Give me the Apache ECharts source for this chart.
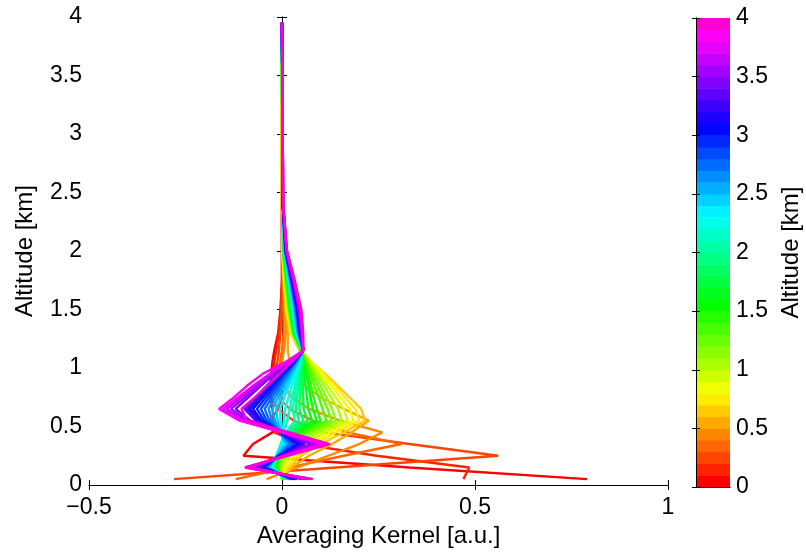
<!DOCTYPE html>
<html>
<head>
<meta charset="utf-8">
<script src="https://cdn.jsdelivr.net/npm/echarts@6/dist/echarts.min.js"></script>
<style>
html, body { margin: 0; padding: 0; background: #fff; }
#chart { width: 806px; height: 553px; }
</style>
</head>
<body>
<div id="chart"></div>
<script>
// Retrieval altitude grid [km] on which each averaging kernel is sampled
const altitudeGrid = [0.05, 0.15, 0.25, 0.35, 0.45, 0.55, 0.65, 0.75, 0.85, 0.95, 1.05, 1.15, 1.3, 1.5, 1.75, 2.0, 2.4, 3.95];

// Nominal altitude [km] of each kernel (sets its colour)
const kernelAltitudes = [0.05, 0.15, 0.25, 0.35, 0.45, 0.55, 0.65, 0.75, 0.85, 0.95,
  1.05, 1.15, 1.25, 1.35, 1.45, 1.55, 1.65, 1.75, 1.85, 1.95,
  2.05, 2.15, 2.25, 2.35, 2.45, 2.55, 2.65, 2.75, 2.85, 2.95,
  3.05, 3.15, 3.25, 3.35, 3.45, 3.55, 3.65, 3.75, 3.85, 3.95];

// Averaging kernel values [a.u.], one row per kernel, one entry per altitudeGrid level
const kernelValues = [
  [0.79, 0.33, -0.10, -0.075, -0.025, -0.02, -0.025, -0.03, -0.03, -0.028, -0.025, -0.02, -0.01, -0.004, 0, 0, 0, 0],
  [0.47, 0.485, 0.245, 0.05, -0.02, -0.03, -0.01, 0.0, -0.01, -0.02, -0.02, -0.015, -0.008, -0.003, 0, 0, 0, 0],
  [-0.28, 0.14, 0.56, 0.33, 0.11, 0.03, -0.01, -0.03, -0.03, -0.02, -0.012, -0.008, -0.004, -0.001, 0.001, 0, 0, 0],
  [-0.12, 0.02, 0.16, 0.31, 0.17, 0.08, 0.02, -0.01, -0.015, -0.01, -0.005, 0.0, 0.004, 0.004, 0.003, 0.001, 0, 0],
  [-0.04, 0.04, 0.12, 0.2, 0.26, 0.15, 0.07, 0.025, 0.005, -0.003, 0.0, 0.005, 0.01, 0.007, 0.004, 0.001, 0, 0],
  [0.0, 0.025, 0.07, 0.13, 0.18, 0.225, 0.16, 0.1, 0.06, 0.035, 0.02, 0.015, 0.015, 0.008, 0.004, 0.001, 0, 0],
  [0.0, 0.02, 0.05, 0.1, 0.16, 0.215, 0.205, 0.175, 0.144, 0.112, 0.077, 0.045, 0.022, 0.01, 0.005, 0.001, 0, 0],
  [0.0, 0.012, 0.04, 0.085, 0.14, 0.2, 0.19, 0.163, 0.137, 0.109, 0.078, 0.05, 0.023, 0.012, 0.006, 0.001, 0, 0],
  [0.0, 0.005, 0.03, 0.07, 0.125, 0.185, 0.175, 0.151, 0.128, 0.103, 0.075, 0.05, 0.024, 0.013, 0.006, 0.0015, 0, 0],
  [0.0, 0.0, 0.02, 0.06, 0.11, 0.17, 0.16, 0.139, 0.118, 0.096, 0.072, 0.05, 0.025, 0.014, 0.007, 0.002, 0, 0],
  [0.0, -0.005, 0.012, 0.05, 0.095, 0.155, 0.145, 0.127, 0.109, 0.09, 0.069, 0.05, 0.026, 0.015, 0.008, 0.002, 0.001, 0],
  [0.0, -0.008, 0.006, 0.04, 0.082, 0.14, 0.13, 0.115, 0.1, 0.084, 0.066, 0.05, 0.027, 0.016, 0.009, 0.003, 0.001, 0],
  [0.002, -0.01, 0.0, 0.03, 0.07, 0.128, 0.118, 0.105, 0.092, 0.079, 0.064, 0.05, 0.028, 0.018, 0.01, 0.003, 0.001, 0],
  [0.003, -0.012, -0.004, 0.022, 0.06, 0.115, 0.105, 0.095, 0.084, 0.073, 0.061, 0.05, 0.029, 0.019, 0.011, 0.003, 0.001, 0],
  [0.004, -0.014, -0.007, 0.015, 0.05, 0.1, 0.09, 0.082, 0.075, 0.067, 0.058, 0.05, 0.03, 0.02, 0.012, 0.004, 0.001, 0],
  [0.005, -0.016, -0.009, 0.01, 0.042, 0.09, 0.08, 0.074, 0.069, 0.063, 0.056, 0.05, 0.031, 0.021, 0.012, 0.004, 0.001, 0],
  [0.006, -0.018, -0.01, 0.006, 0.035, 0.078, 0.068, 0.065, 0.061, 0.058, 0.054, 0.05, 0.032, 0.022, 0.013, 0.004, 0.001, 0],
  [0.007, -0.02, -0.011, 0.003, 0.028, 0.066, 0.056, 0.055, 0.054, 0.053, 0.051, 0.05, 0.033, 0.024, 0.014, 0.005, 0.001, 0],
  [0.008, -0.022, -0.012, 0.0, 0.022, 0.055, 0.045, 0.046, 0.048, 0.049, 0.051, 0.052, 0.034, 0.025, 0.015, 0.005, 0.001, 0],
  [0.009, -0.024, -0.013, -0.002, 0.016, 0.044, 0.036, 0.039, 0.042, 0.045, 0.049, 0.052, 0.035, 0.026, 0.016, 0.006, 0.001, 0],
  [0.01, -0.026, -0.014, -0.003, 0.01, 0.033, 0.028, 0.033, 0.037, 0.042, 0.048, 0.053, 0.036, 0.027, 0.017, 0.006, 0.001, 0],
  [0.011, -0.028, -0.015, -0.002, 0.004, 0.014, 0.02, 0.026, 0.033, 0.04, 0.047, 0.054, 0.037, 0.028, 0.018, 0.006, 0.001, 0],
  [0.013, -0.03, -0.015, 0.0, 0.002, 0.005, 0.008, 0.017, 0.025, 0.035, 0.045, 0.054, 0.038, 0.03, 0.018, 0.007, 0.002, 0],
  [0.015, -0.032, -0.014, 0.004, 0.0, -0.004, -0.005, 0.006, 0.018, 0.03, 0.043, 0.055, 0.039, 0.031, 0.019, 0.007, 0.002, 0],
  [0.017, -0.034, -0.013, 0.008, -0.002, -0.011, -0.015, -0.002, 0.012, 0.026, 0.041, 0.055, 0.04, 0.032, 0.02, 0.007, 0.002, 0],
  [0.019, -0.037, -0.012, 0.013, -0.004, -0.018, -0.025, -0.01, 0.005, 0.021, 0.039, 0.055, 0.041, 0.033, 0.021, 0.008, 0.002, 0],
  [0.021, -0.04, -0.011, 0.018, -0.005, -0.025, -0.035, -0.018, -0.001, 0.017, 0.037, 0.055, 0.042, 0.034, 0.022, 0.008, 0.002, 0],
  [0.023, -0.043, -0.01, 0.024, -0.006, -0.032, -0.045, -0.026, -0.007, 0.013, 0.035, 0.055, 0.043, 0.036, 0.023, 0.009, 0.002, 0],
  [0.026, -0.046, -0.009, 0.03, -0.007, -0.039, -0.055, -0.034, -0.013, 0.009, 0.033, 0.055, 0.044, 0.037, 0.024, 0.009, 0.002, 0],
  [0.028, -0.05, -0.008, 0.038, -0.006, -0.046, -0.065, -0.042, -0.019, 0.005, 0.031, 0.055, 0.045, 0.038, 0.024, 0.009, 0.002, 0],
  [0.031, -0.054, -0.006, 0.045, -0.005, -0.053, -0.075, -0.05, -0.026, 0.0, 0.029, 0.055, 0.046, 0.039, 0.025, 0.01, 0.002, 0],
  [0.034, -0.058, -0.004, 0.05, -0.004, -0.058, -0.083, -0.057, -0.031, -0.003, 0.027, 0.055, 0.047, 0.04, 0.026, 0.01, 0.002, 0],
  [0.037, -0.062, -0.002, 0.055, -0.003, -0.063, -0.09, -0.062, -0.035, -0.006, 0.026, 0.055, 0.048, 0.042, 0.027, 0.01, 0.002, 0],
  [0.04, -0.066, 0.0, 0.06, -0.002, -0.068, -0.097, -0.068, -0.039, -0.009, 0.025, 0.055, 0.049, 0.043, 0.028, 0.011, 0.002, 0],
  [0.05, -0.072, 0.002, 0.075, -0.002, -0.082, -0.12, -0.087, -0.054, -0.019, 0.02, 0.055, 0.05, 0.044, 0.029, 0.011, 0.003, 0],
  [0.058, -0.078, 0.004, 0.085, -0.001, -0.09, -0.132, -0.096, -0.061, -0.024, 0.018, 0.055, 0.051, 0.045, 0.03, 0.012, 0.003, 0],
  [0.065, -0.084, 0.006, 0.095, 0.0, -0.097, -0.143, -0.105, -0.068, -0.028, 0.015, 0.055, 0.052, 0.046, 0.03, 0.012, 0.003, 0],
  [0.072, -0.09, 0.008, 0.105, 0.0, -0.104, -0.153, -0.113, -0.074, -0.032, 0.013, 0.055, 0.053, 0.048, 0.031, 0.012, 0.003, 0],
  [0.078, -0.094, 0.01, 0.115, 0.0, -0.11, -0.163, -0.124, -0.09, -0.05, 0.008, 0.055, 0.054, 0.049, 0.032, 0.013, 0.003, 0],
  [0.08, -0.096, 0.015, 0.124, 0.02, -0.09, -0.105, -0.07, -0.038, -0.007, 0.024, 0.055, 0.055, 0.05, 0.033, 0.013, 0.003, 0]
];

// Axis ranges and ticks
const xRange = [-0.5, 1];
const xStep = 0.5;
const yRange = [0, 4];
const yStep = 0.5;
const colorbarRange = [0, 4];
const colorbarStep = 0.1;

const FONT = "'Liberation Sans', Arial, Helvetica, sans-serif";

// Rainbow colour scale: hue from red (0 km) towards pink-magenta (4 km), banded every 0.1 km
function hsvToHex(h) {
  const c = 1, hp = (h % 360) / 60, x = c * (1 - Math.abs(hp % 2 - 1));
  let r = 0, g = 0, b = 0;
  if (hp < 1) { r = c; g = x; }
  else if (hp < 2) { r = x; g = c; }
  else if (hp < 3) { g = c; b = x; }
  else if (hp < 4) { g = x; b = c; }
  else if (hp < 5) { r = x; b = c; }
  else { r = c; b = x; }
  const to = v => Math.round(v * 255).toString(16).padStart(2, '0');
  return '#' + to(r) + to(g) + to(b);
}
function altitudeColor(alt) {
  const band = Math.min(Math.floor((alt - colorbarRange[0]) / colorbarStep), 39);
  return hsvToHex(band * 7.95);
}

const fmt = v => (v < 0 ? '\u2212' : '') + String(Math.abs(Math.round(v * 100) / 100));

const kernelSeries = kernelValues.map((row, k) => ({
  type: 'line',
  xAxisIndex: 0,
  yAxisIndex: 0,
  data: row.map((v, i) => [v, altitudeGrid[i]]),
  showSymbol: false,
  symbol: 'none',
  lineStyle: { width: 2.4, color: altitudeColor(kernelAltitudes[k]) },
  clip: true,
  silent: true,
  z: 2
}));

// Colour bar bands from the kernel altitudes
const bandData = kernelAltitudes.map(a => [0.5, a - colorbarStep / 2, a + colorbarStep / 2]);
const bandColors = kernelAltitudes.map(a => altitudeColor(a));

const colorbarSeries = {
  type: 'custom',
  xAxisIndex: 2,
  yAxisIndex: 2,
  data: bandData,
  encode: { x: 0, y: [1, 2] },
  silent: true,
  renderItem: (params, api) => {
    const lo = api.value(1), hi = api.value(2);
    const p0 = api.coord([0, lo]);
    const p1 = api.coord([1, hi]);
    return {
      type: 'rect',
      shape: { x: p0[0], y: p1[1], width: p1[0] - p0[0], height: p0[1] - p1[1] + 0.5 },
      style: { fill: bandColors[params.dataIndex] }
    };
  }
};

const blackLine = { show: true, lineStyle: { color: '#000', width: 1 } };
const tickIn = len => ({ show: true, inside: true, length: len, lineStyle: { color: '#000', width: 1 } });
const labelStyle = { color: '#000', fontSize: 23, fontFamily: FONT };
const nameStyle = { color: '#000', fontSize: 24, fontFamily: FONT };

const option = {
  animation: false,
  backgroundColor: '#fff',
  textStyle: { fontFamily: FONT },
  grid: [
    { left: 89, top: 17, width: 579, height: 468, containLabel: false },
    { left: 696, top: 18, width: 34, height: 469, containLabel: false }
  ],
  xAxis: [
    {
      type: 'value', gridIndex: 0, position: 'bottom', min: xRange[0], max: xRange[1], interval: xStep,
      axisLine: blackLine, axisTick: tickIn(5), splitLine: { show: false },
      axisLabel: Object.assign({ margin: 11, formatter: fmt }, labelStyle),
      name: 'Averaging Kernel [a.u.]', nameLocation: 'middle', nameGap: 39,
      nameTextStyle: nameStyle
    },
    {
      type: 'value', gridIndex: 0, position: 'top', min: xRange[0], max: xRange[1], interval: xStep,
      axisLine: blackLine, axisTick: tickIn(5), splitLine: { show: false }, axisLabel: { show: false }
    },
    {
      type: 'value', gridIndex: 1, position: 'bottom', min: 0, max: 1,
      axisLine: blackLine, axisTick: { show: false }, splitLine: { show: false }, axisLabel: { show: false }
    },
    {
      type: 'value', gridIndex: 1, position: 'top', min: 0, max: 1,
      axisLine: blackLine, axisTick: { show: false }, splitLine: { show: false }, axisLabel: { show: false }
    }
  ],
  yAxis: [
    {
      type: 'value', gridIndex: 0, position: 'left', min: yRange[0], max: yRange[1], interval: yStep,
      axisLine: blackLine, axisTick: tickIn(5), splitLine: { show: false },
      axisLabel: Object.assign({ margin: 7, formatter: fmt }, labelStyle),
      name: 'Altitude [km]', nameLocation: 'middle', nameGap: 52, nameRotate: 90,
      nameTextStyle: nameStyle
    },
    {
      type: 'value', gridIndex: 0, position: 'right', min: yRange[0], max: yRange[1], interval: yStep,
      axisLine: blackLine, axisTick: tickIn(5), splitLine: { show: false }, axisLabel: { show: false }
    },
    {
      type: 'value', gridIndex: 1, position: 'left', min: colorbarRange[0], max: colorbarRange[1], interval: 0.5,
      axisLine: blackLine, axisTick: tickIn(4), splitLine: { show: false }, axisLabel: { show: false }, z: 5
    },
    {
      type: 'value', gridIndex: 1, position: 'right', min: colorbarRange[0], max: colorbarRange[1], interval: 0.5,
      axisLine: blackLine, axisTick: tickIn(4), splitLine: { show: false },
      axisLabel: Object.assign({ margin: 6, formatter: fmt }, labelStyle),
      name: 'Altitude [km]', nameLocation: 'middle', nameGap: 49, nameRotate: 90,
      nameTextStyle: nameStyle, z: 5
    }
  ],
  series: kernelSeries.concat([colorbarSeries])
};

const chart = echarts.init(document.getElementById('chart'), null, { renderer: 'canvas' });
chart.setOption(option);
</script>
</body>
</html>
